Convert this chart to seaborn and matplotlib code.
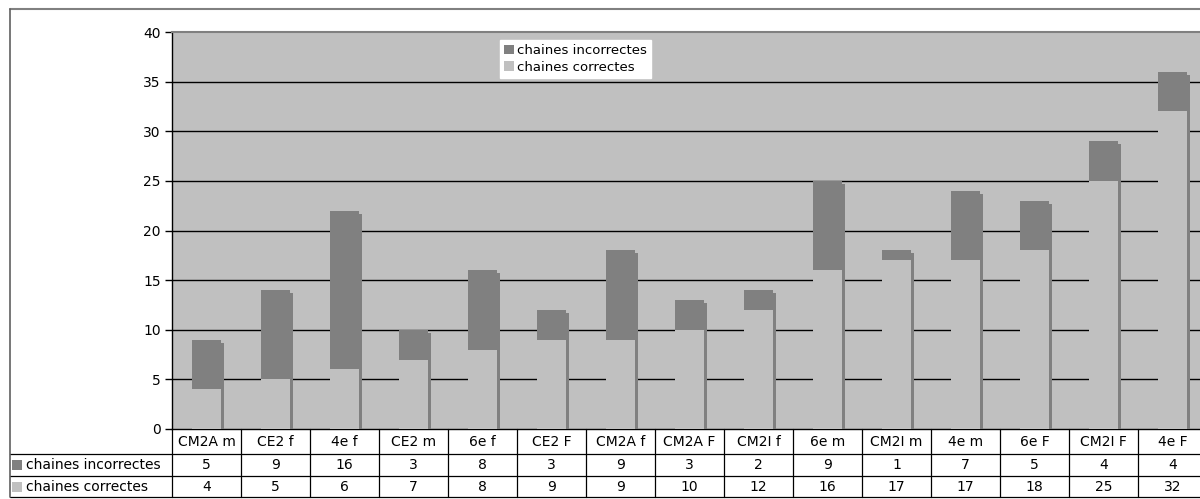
import matplotlib
matplotlib.use('Agg')
import matplotlib.pyplot as plt
import matplotlib.patheffects as pe
import matplotlib.transforms as mtransforms
from matplotlib.patches import Patch, Rectangle
import seaborn as sns

# données du graphique
categories = ["CM2A m", "CE2 f", "4e f", "CE2 m", "6e f", "CE2 F", "CM2A f", "CM2A F",
              "CM2I f", "6e m", "CM2I m", "4e m", "6e F", "CM2I F", "4e F"]
incorrectes = [5, 9, 16, 3, 8, 3, 9, 3, 2, 9, 1, 7, 5, 4, 4]
correctes = [4, 5, 6, 7, 8, 9, 9, 10, 12, 16, 17, 17, 18, 25, 32]
series = ["chaines incorrectes", "chaines correctes"]
yticks = [0, 5, 10, 15, 20, 25, 30, 35, 40]

totaux = [a + b for a, b in zip(incorrectes, correctes)]

sns.set_style('white')
plt.rcParams['font.family'] = ['DejaVu Sans']
plt.rcParams['text.color'] = 'black'
plt.rcParams['ytick.color'] = 'black'
plt.rcParams['ytick.labelcolor'] = 'black'

W, H = 1200, 499
fig = plt.figure(figsize=(W / 100, H / 100), dpi=100)

def fx(px):
    return px / W

def fy(py):
    return 1 - py / H

gris_fonce = '#808080'
gris_clair = '#C0C0C0'

# zone de tracé (déborde à droite comme sur l'original)
ax = fig.add_axes([fx(172), fy(429), fx(1207) - fx(172), fy(32) - fy(429)])
ax.set_facecolor(gris_clair)

sns.barplot(x=categories, y=totaux, color=gris_fonce, saturation=1, width=0.42, ax=ax, zorder=3)
sns.barplot(x=categories, y=correctes, color=gris_clair, saturation=1, width=0.42, ax=ax, zorder=4)

ombre = [pe.SimplePatchShadow(offset=(2.2, -2.2), shadow_rgbFace=gris_fonce, alpha=1.0), pe.Normal()]
for p in ax.patches:
    p.set_path_effects(ombre)
    p.set_linewidth(0)

ax.set_ylim(0, 40)
ax.set_xlim(-0.5, len(categories) - 0.5)
ax.set_yticks(yticks)
ax.set_yticklabels([str(v) for v in yticks], fontsize=10)
ax.set_xticks([])
ax.set_xlabel('')
ax.set_ylabel('')
ax.tick_params(axis='y', direction='out', length=5, width=1, color='black', pad=3, left=True)
for v in yticks[1:-1]:
    ax.axhline(v, color='black', lw=1.0, zorder=1)

ax.spines['right'].set_visible(False)
ax.spines['top'].set_color(gris_fonce)
ax.spines['top'].set_linewidth(1.5)
ax.spines['left'].set_color('black')
ax.spines['bottom'].set_color('black')
ax.spines['left'].set_linewidth(1)
ax.spines['bottom'].set_linewidth(1)

# légende
handles = [Patch(facecolor=gris_fonce, edgecolor='none', label=series[0]),
           Patch(facecolor=gris_clair, edgecolor='none', label=series[1])]
leg = ax.legend(handles=handles, loc='upper left', bbox_to_anchor=(fx(500), fy(40)),
                bbox_transform=fig.transFigure, frameon=True, fancybox=False, fontsize=9.5,
                handlelength=0.75, handleheight=0.75, handletextpad=0.25, labelspacing=0.3,
                borderpad=0.3, borderaxespad=0)
leg.get_frame().set_facecolor('white')
leg.get_frame().set_edgecolor('white')
leg.get_frame().set_alpha(1)
for t in leg.get_texts():
    t.set_color('black')

# tableau de données
tr = mtransforms.blended_transform_factory(ax.transData, fig.transFigure)
n = len(categories)
y_lignes = [fy(454), fy(476), fy(497)]
for i in range(n + 1):
    ax.plot([i - 0.5, i - 0.5], [fy(429), fy(497)], color='black', lw=0.9, transform=tr, clip_on=False)
for yl in y_lignes:
    fig.add_artist(plt.Line2D([fx(10), 1.0], [yl, yl], color='black', lw=0.9))

lignes = [categories, incorrectes, correctes]
y_texte = [fy(442), fy(465), fy(487)]
for row, yt in zip(lignes, y_texte):
    for i, v in enumerate(row):
        ax.text(i, yt, str(v), transform=tr, ha='center', va='center', fontsize=10,
                color='black', clip_on=False)

for lab, col, yt in zip(series, [gris_fonce, gris_clair], y_texte[1:]):
    fig.add_artist(Rectangle((fx(12), yt - 5 / H), 10 / W, 10 / H, transform=fig.transFigure,
                             facecolor=col, edgecolor='none'))
    fig.text(fx(26), yt, lab, ha='left', va='center', fontsize=10, color='black')

# cadre extérieur
fig.add_artist(plt.Line2D([fx(10), 1.0], [fy(9), fy(9)], color=gris_fonce, lw=1.5))
fig.add_artist(plt.Line2D([fx(10), fx(10)], [fy(9), fy(497)], color='#606060', lw=1.2))

fig.savefig('out.png', dpi=100)
